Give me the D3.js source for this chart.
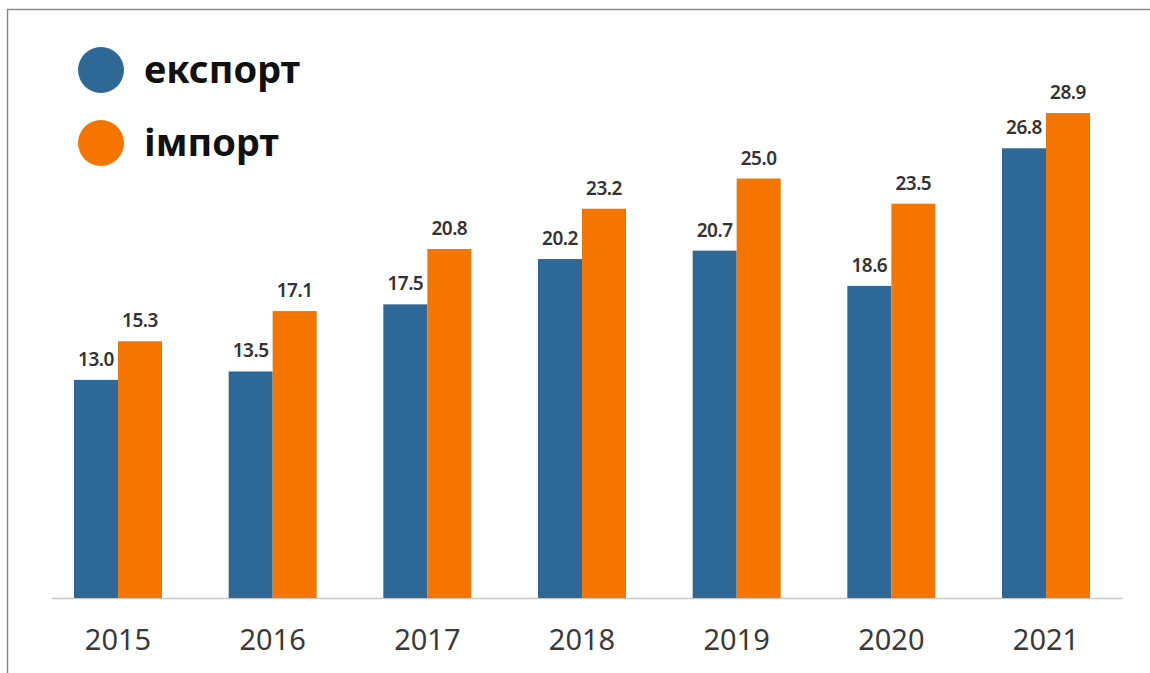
<!DOCTYPE html>
<html lang="uk">
<head>
<meta charset="utf-8">
<title>Експорт та імпорт</title>
<script src="https://d3js.org/d3.v7.min.js"></script>
<style>
  body { margin: 0; background: #fff; }
  svg { display: block; }
  .bar-label { font-family: "Noto Sans", "Open Sans", sans-serif; font-size: 19px; font-weight: 600; fill: #333; letter-spacing: -0.5px; }
  .year { font-family: "Noto Sans", "Open Sans", sans-serif; font-size: 29px; fill: #3a3a3a; }
  .legend { font-family: "Noto Sans", "Open Sans", sans-serif; font-size: 38px; font-weight: 700; fill: #111; }
</style>
</head>
<body>
<div id="vis"></div>
<script>
const years = ["2015", "2016", "2017", "2018", "2019", "2020", "2021"];
const exportVals = [13.0, 13.5, 17.5, 20.2, 20.7, 18.6, 26.8];
const importVals = [15.3, 17.1, 20.8, 23.2, 25.0, 23.5, 28.9];
const seriesNames = ["експорт", "імпорт"];
const colors = ["#2d6897", "#f47600"];

const width = 1150, height = 673;
const baseY = 598;

const svg = d3.select("#vis").append("svg")
  .attr("width", width)
  .attr("height", height);

// frame
svg.append("rect")
  .attr("x", 7.5).attr("y", 9.5)
  .attr("width", width + 20).attr("height", height + 20)
  .attr("fill", "none")
  .attr("stroke", "#8a8a8a")
  .attr("stroke-width", 1.5);

const data = years.map((y, i) => ({ year: y, values: [exportVals[i], importVals[i]] }));

const x0 = d3.scaleBand()
  .domain(years)
  .range([74, 1090])
  .paddingInner(0.431)
  .paddingOuter(0);

const x1 = d3.scaleBand()
  .domain([0, 1])
  .range([0, x0.bandwidth()]);

const y = d3.scaleLinear()
  .domain([0, 30])
  .range([baseY, baseY - 30 * 16.78]);

// axis line
svg.append("line")
  .attr("x1", 52).attr("x2", 1123)
  .attr("y1", baseY + 0.5).attr("y2", baseY + 0.5)
  .attr("stroke", "#c8c8c8")
  .attr("stroke-width", 1.5);

const groups = svg.selectAll(".grp")
  .data(data)
  .enter().append("g")
  .attr("class", "grp")
  .attr("transform", d => `translate(${x0(d.year)},0)`);

groups.selectAll("rect")
  .data(d => d.values.map((v, k) => ({ v, k })))
  .enter().append("rect")
  .attr("x", d => x1(d.k))
  .attr("width", x1.bandwidth())
  .attr("y", d => y(d.v))
  .attr("height", d => baseY - y(d.v))
  .attr("fill", d => colors[d.k]);

groups.selectAll(".bar-label")
  .data(d => d.values.map((v, k) => ({ v, k })))
  .enter().append("text")
  .attr("class", "bar-label")
  .attr("x", d => x1(d.k) + x1.bandwidth() / 2)
  .attr("y", d => y(d.v) - 14)
  .attr("text-anchor", "middle")
  .text(d => d.v.toFixed(1));

// year labels
svg.selectAll(".year")
  .data(years)
  .enter().append("text")
  .attr("class", "year")
  .attr("x", d => x0(d) + x0.bandwidth() / 2)
  .attr("y", 650)
  .attr("text-anchor", "middle")
  .text(d => d);

// legend
const legend = svg.selectAll(".leg")
  .data(seriesNames)
  .enter().append("g")
  .attr("class", "leg")
  .attr("transform", (d, i) => `translate(101,${70 + i * 73})`);

legend.append("circle")
  .attr("r", 23)
  .attr("fill", (d, i) => colors[i]);

legend.append("text")
  .attr("class", "legend")
  .attr("x", 43)
  .attr("y", 13)
  .text(d => d);
</script>
</body>
</html>
